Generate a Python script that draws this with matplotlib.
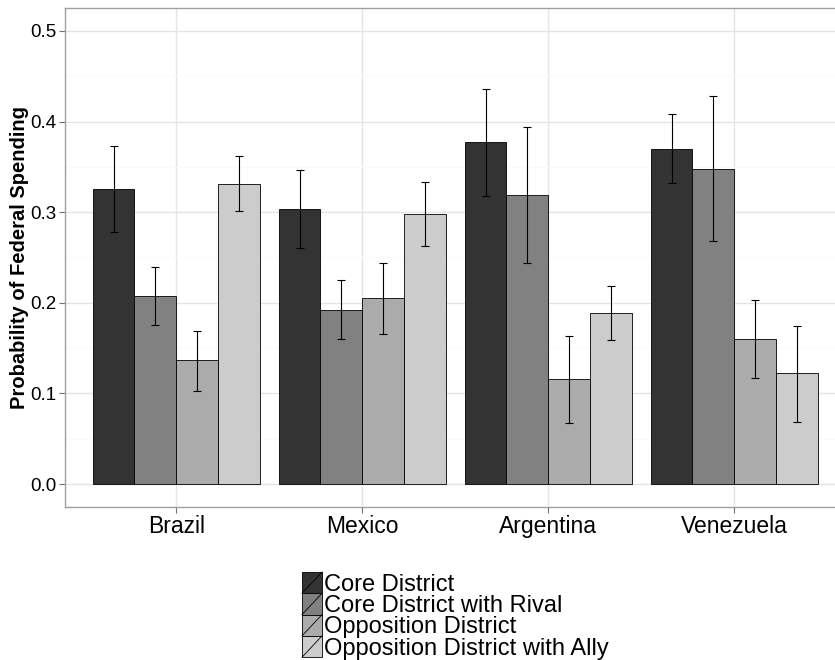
import matplotlib
matplotlib.use('Agg')
import matplotlib.pyplot as plt
import numpy as np
from matplotlib.patches import Rectangle
from matplotlib.lines import Line2D

plt.rcParams['font.family'] = ['Liberation Sans', 'DejaVu Sans']

# Data
countries = ['Brazil', 'Mexico', 'Argentina', 'Venezuela']
groups = ['Core District', 'Core District with Rival',
          'Opposition District', 'Opposition District with Ally']
colors = ['#333333', '#818181', '#ABABAB', '#CCCCCC']

# one list per group, in country order
core = [0.326, 0.304, 0.377, 0.370]
core_rival = [0.207, 0.192, 0.319, 0.348]
opposition = [0.137, 0.205, 0.116, 0.160]
opposition_ally = [0.331, 0.298, 0.189, 0.122]

core_lo = [0.278, 0.261, 0.318, 0.332]
core_hi = [0.373, 0.347, 0.436, 0.408]
core_rival_lo = [0.175, 0.160, 0.244, 0.268]
core_rival_hi = [0.239, 0.225, 0.394, 0.428]
opposition_lo = [0.103, 0.166, 0.067, 0.117]
opposition_hi = [0.169, 0.244, 0.163, 0.203]
opposition_ally_lo = [0.301, 0.263, 0.159, 0.069]
opposition_ally_hi = [0.362, 0.333, 0.219, 0.174]

values = [core, core_rival, opposition, opposition_ally]
lows = [core_lo, core_rival_lo, opposition_lo, opposition_ally_lo]
highs = [core_hi, core_rival_hi, opposition_hi, opposition_ally_hi]

W, H = 835, 660
fig = plt.figure(figsize=(W / 100, H / 100), dpi=100)
fig.patch.set_facecolor('white')

# panel (right side runs past the image edge, like the original crop)
left_px, right_px, top_px, bot_px = 64.7, 845.9, 8.3, 506.7
ax = fig.add_axes([left_px / W, 1 - bot_px / H,
                   (right_px - left_px) / W, (bot_px - top_px) / H])

x = np.arange(1, len(countries) + 1)
bw = 0.9 / len(groups)

for i, (vals, lo, hi) in enumerate(zip(values, lows, highs)):
    pos = x - 0.45 + bw * (i + 0.5)
    vals = np.array(vals)
    ax.bar(pos, vals, width=bw, color=colors[i], edgecolor='black',
           linewidth=0.6, zorder=3)
    yerr = [vals - np.array(lo), np.array(hi) - vals]
    ax.errorbar(pos, vals, yerr=yerr, fmt='none', ecolor='black',
                elinewidth=0.8, capsize=3.2, capthick=0.8, zorder=4)

ax.set_xlim(0.4, 4.6)
ax.set_ylim(-0.025, 0.525)
ax.set_xticks(x)
ax.set_xticklabels(countries, fontsize=16.5)
ax.set_yticks([0.0, 0.1, 0.2, 0.3, 0.4, 0.5])
ax.set_yticklabels(['0.0', '0.1', '0.2', '0.3', '0.4', '0.5'], fontsize=13.5)
ax.set_yticks([0.05, 0.15, 0.25, 0.35, 0.45], minor=True)
ax.tick_params(axis='y', which='minor', length=0)

# grid
ax.grid(True, which='major', color='#E5E5E5', linewidth=1.0, zorder=0)
ax.grid(True, which='minor', axis='y', color='#FAFAFA', linewidth=0.8, zorder=0)
ax.set_axisbelow(True)

for s in ax.spines.values():
    s.set_color('#A0A0A0')
    s.set_linewidth(1.0)
ax.tick_params(axis='both', which='major', color='#707070', length=4,
               width=0.8, labelcolor='black', pad=2)

ax.set_ylabel('Probability of Federal Spending', fontsize=14.5,
              fontweight='bold', labelpad=1)

# legend at the bottom, ggplot style keys with a slash
key_w, key_h = 20, 21.3
lx, ly = 302, 572
for i, g in enumerate(groups):
    y0 = ly + i * key_h
    fig.patches.append(Rectangle((lx / W, 1 - (y0 + key_h) / H), key_w / W,
                                 key_h / H, transform=fig.transFigure,
                                 facecolor=colors[i], edgecolor='black',
                                 linewidth=0.6))
    fig.lines.append(Line2D([lx / W, (lx + key_w) / W],
                            [1 - (y0 + key_h) / H, 1 - y0 / H],
                            transform=fig.transFigure, color='black',
                            linewidth=0.6))
    fig.text((lx + key_w + 2) / W, 1 - (y0 + 18.7) / H, g,
             fontsize=17, va='baseline', ha='left')

fig.savefig('out.png', dpi=100)
